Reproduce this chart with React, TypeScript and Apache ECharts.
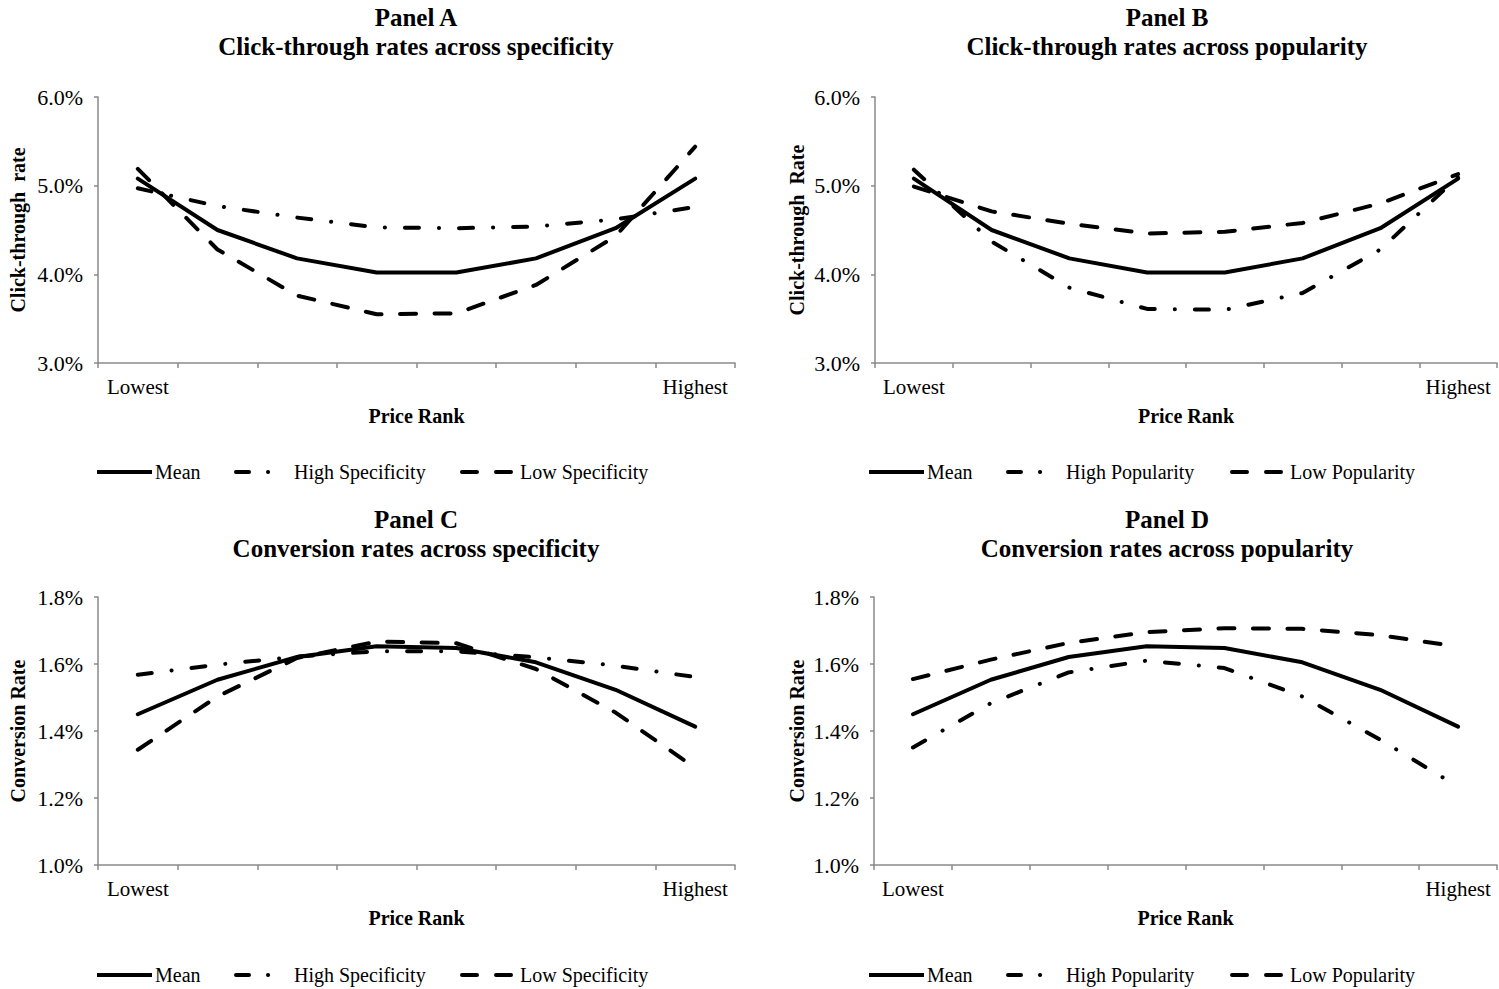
import React, { useEffect, useRef } from 'react';
import * as echarts from 'echarts';

// ---------- data ----------
const priceRanks = ['1', '2', '3', '4', '5', '6', '7', '8'];
const priceRankLabels = ['Lowest', '', '', '', '', '', '', 'Highest'];

// Click-through rates (%)
const ctrMean = [5.08, 4.5, 4.18, 4.02, 4.02, 4.18, 4.52, 5.08];
const ctrHighSpec = [4.97, 4.77, 4.64, 4.53, 4.52, 4.54, 4.62, 4.76];
const ctrLowSpec = [5.19, 4.28, 3.76, 3.55, 3.56, 3.88, 4.43, 5.44];
const ctrHighPop = [5.18, 4.37, 3.85, 3.61, 3.6, 3.79, 4.28, 5.1];
const ctrLowPop = [4.99, 4.71, 4.57, 4.46, 4.48, 4.58, 4.8, 5.13];

// Conversion rates (%)
const convMean = [1.45, 1.553, 1.621, 1.653, 1.648, 1.605, 1.523, 1.413];
const convHighSpec = [1.568, 1.598, 1.622, 1.638, 1.638, 1.62, 1.595, 1.561];
const convLowSpec = [1.344, 1.503, 1.618, 1.667, 1.662, 1.585, 1.455, 1.29];
const convHighPop = [1.351, 1.483, 1.575, 1.61, 1.588, 1.503, 1.374, 1.234];
const convLowPop = [1.555, 1.613, 1.663, 1.695, 1.707, 1.705, 1.686, 1.652];

const panelTitles = [
  'Panel A\nClick-through rates across specificity',
  'Panel B\nClick-through rates across popularity',
  'Panel C\nConversion rates across specificity',
  'Panel D\nConversion rates across popularity',
];
const yAxisNames = ['Click-through  rate', 'Click-through  Rate', 'Conversion Rate', 'Conversion Rate'];
const xAxisName = 'Price Rank';

const FONT = "'Times New Roman', 'Liberation Serif', serif";
const AXIS_GRAY = '#8a8a8a';

const SOLID = { type: 'solid' as any, width: 4, color: '#000', cap: 'round', join: 'round' };
const DASHED = { type: [16, 18.5], width: 4, color: '#000', cap: 'round', join: 'round' };
const DASHDOT = { type: [14, 20, 0.1, 20], width: 4, color: '#000', cap: 'round', join: 'round' };
const LEG_SOLID = { type: 'solid' as any, width: 4, color: '#000', cap: 'butt' };
const LEG_DASHED = { type: [15, 19], width: 4, color: '#000', cap: 'round' };
const LEG_DASHDOT = { type: [13, 19, 0.1, 40], width: 4, color: '#000', cap: 'round' };

export default function App() {
  const ref = useRef<HTMLDivElement>(null);

  useEffect(() => {
    const chart = echarts.init(ref.current!, null, { renderer: 'svg' });

    const grids = [
      { left: 98, top: 97, width: 637, height: 266 },
      { left: 875, top: 97, width: 622, height: 266 },
      { left: 98, top: 597, width: 637, height: 268 },
      { left: 874, top: 597, width: 623, height: 268 },
    ];
    const titleCenters = [416, 1167, 416, 1167];
    const titleTops = [3, 3, 505, 505];
    const nameGaps = [70, 68, 70, 67];

    const xAxes = grids.map((_, i) => ({
      type: 'category',
      gridIndex: i,
      data: priceRanks,
      boundaryGap: true,
      name: xAxisName,
      nameLocation: 'middle',
      nameGap: 43,
      nameTextStyle: { fontFamily: FONT, fontSize: 20, fontWeight: 'bold', color: '#000' },
      axisLine: { show: true, lineStyle: { color: AXIS_GRAY, width: 1.5 } },
      axisTick: { show: true, interval: 0, length: 5, lineStyle: { color: AXIS_GRAY, width: 1.5 } },
      axisLabel: {
        interval: 0,
        margin: 13,
        fontFamily: FONT,
        fontSize: 21,
        color: '#000',
        formatter: (_v: string, idx: number) => priceRankLabels[idx],
      },
      splitLine: { show: false },
    }));

    const yAxes = grids.map((_, i) => {
      const isCtr = i < 2;
      return {
        type: 'value',
        gridIndex: i,
        min: isCtr ? 3 : 1.0,
        max: isCtr ? 6 : 1.8,
        interval: isCtr ? 1 : 0.2,
        name: yAxisNames[i],
        nameLocation: 'middle',
        nameGap: nameGaps[i],
        nameTextStyle: { fontFamily: FONT, fontSize: 20, fontWeight: 'bold', color: '#000' },
        axisLine: { show: true, lineStyle: { color: AXIS_GRAY, width: 1.5 } },
        axisTick: { show: true, length: 4, lineStyle: { color: AXIS_GRAY, width: 1.5 } },
        axisLabel: {
          margin: 15,
          fontFamily: FONT,
          fontSize: 22,
          color: '#000',
          formatter: (v: number) => v.toFixed(1) + '%',
        },
        splitLine: { show: false },
      };
    });

    const panelSeries: [string, number[], any][][] = [
      [
        ['Mean', ctrMean, SOLID],
        ['High Specificity', ctrHighSpec, DASHDOT],
        ['Low Specificity', ctrLowSpec, DASHED],
      ],
      [
        ['Mean', ctrMean, SOLID],
        ['High Popularity', ctrHighPop, DASHDOT],
        ['Low Popularity', ctrLowPop, DASHED],
      ],
      [
        ['Mean', convMean, SOLID],
        ['High Specificity', convHighSpec, DASHDOT],
        ['Low Specificity', convLowSpec, DASHED],
      ],
      [
        ['Mean', convMean, SOLID],
        ['High Popularity', convHighPop, DASHDOT],
        ['Low Popularity', convLowPop, DASHED],
      ],
    ];

    const series: any[] = [];
    panelSeries.forEach((list, gi) => {
      list.forEach(([name, data, ls]) => {
        series.push({
          type: 'line',
          name,
          xAxisIndex: gi,
          yAxisIndex: gi,
          data,
          symbol: 'none',
          silent: true,
          lineStyle: ls,
          emphasis: { disabled: true },
        });
      });
    });

    const legendRows = [
      { top: 462, lefts: [95, 234, 460], names: ['Mean', 'High Specificity', 'Low Specificity'] },
      { top: 462, lefts: [867, 1006, 1230], names: ['Mean', 'High Popularity', 'Low Popularity'] },
      { top: 965, lefts: [95, 234, 460], names: ['Mean', 'High Specificity', 'Low Specificity'] },
      { top: 965, lefts: [867, 1006, 1230], names: ['Mean', 'High Popularity', 'Low Popularity'] },
    ];
    const legendStyles = [LEG_SOLID, LEG_DASHDOT, LEG_DASHED];
    const legends: any[] = [];
    legendRows.forEach((row) => {
      row.names.forEach((nm, k) => {
        legends.push({
          data: [nm],
          left: row.lefts[k],
          top: row.top,
          padding: 0,
          itemWidth: 55,
          itemHeight: 20,
          selectedMode: false,
          textStyle: { fontFamily: FONT, fontSize: 20, color: '#000', padding: [0, 0, 0, -2] },
          lineStyle: legendStyles[k],
          itemStyle: { opacity: 0 },
        });
      });
    });

    const option: any = {
      animation: false,
      backgroundColor: '#fff',
      title: panelTitles.map((t, i) => ({
        text: t,
        left: titleCenters[i],
        top: titleTops[i],
        textAlign: 'center',
        padding: 0,
        textStyle: {
          fontFamily: FONT,
          fontSize: 25,
          fontWeight: 'bold',
          color: '#000',
          lineHeight: 29,
        },
      })),
      grid: grids,
      xAxis: xAxes,
      yAxis: yAxes,
      legend: legends,
      series,
    };

    chart.setOption(option);
    return () => chart.dispose();
  }, []);

  return (
    <div
      ref={ref}
      style={{ position: 'fixed', left: 0, top: 0, width: 1499, height: 989, background: '#fff' }}
    />
  );
}
